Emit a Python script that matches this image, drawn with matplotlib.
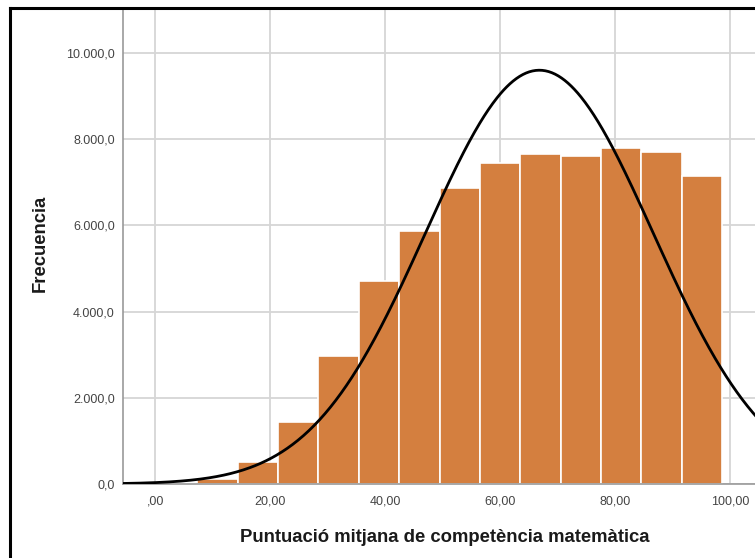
import numpy as np
import matplotlib
matplotlib.use("Agg")
import matplotlib.pyplot as plt
from matplotlib.lines import Line2D

# ---- data ----
bin_start = 0.3
bin_width = 7.02
counts = [30, 110, 500, 1430, 2980, 4700, 5880, 6870, 7450, 7660, 7600, 7800, 7710, 7150]
curve_mean = 66.8
curve_sd = 19.8
x_ticks = [0, 20, 40, 60, 80, 100]
x_tick_labels = [",00", "20,00", "40,00", "60,00", "80,00", "100,00"]
y_ticks = [0, 2000, 4000, 6000, 8000, 10000]
y_tick_labels = ["0,0", "2.000,0", "4.000,0", "6.000,0", "8.000,0", "10.000,0"]
x_label = "Puntuació mitjana de competència matemàtica"
y_label = "Frecuencia"

plt.rcParams['font.family'] = ['Liberation Sans', 'DejaVu Sans']

W, H = 755, 558
fig = plt.figure(figsize=(W / 100, H / 100), dpi=100)
fig.patch.set_facecolor("white")

ax_left, ax_right, ax_top, ax_bottom = 123, 755, 9, 484
ax = fig.add_axes([ax_left / W, 1 - ax_bottom / H, (ax_right - ax_left) / W, (ax_bottom - ax_top) / H])

edges = bin_start + bin_width * np.arange(len(counts) + 1)
ax.bar(edges[:-1], counts, width=bin_width, align="edge",
       color="#D47F3F", edgecolor="white", linewidth=1.2, zorder=2)

total = sum(counts)
xs = np.linspace(-6, 106, 600)
ys = total * bin_width / (curve_sd * np.sqrt(2 * np.pi)) * np.exp(-0.5 * ((xs - curve_mean) / curve_sd) ** 2)
ax.plot(xs, ys, color="black", linewidth=2.0, zorder=3, clip_on=True)

ax.set_xlim(-5.6, 104.3)
ax.set_ylim(0, 11020)
ax.set_xticks(x_ticks)
ax.set_xticklabels(x_tick_labels)
ax.set_yticks(y_ticks)
ax.set_yticklabels(y_tick_labels)
ax.tick_params(axis="both", length=0, labelsize=9, labelcolor="#444444")
ax.tick_params(axis="x", pad=8)
ax.tick_params(axis="y", pad=6)
ax.grid(True, color="#d6d6d6", linewidth=1.3, zorder=0)
ax.set_axisbelow(True)
for s in ["top", "right"]:
    ax.spines[s].set_visible(False)
for s in ["left", "bottom"]:
    ax.spines[s].set_color("#999999")
    ax.spines[s].set_linewidth(1.2)

fig.text(445 / W, 1 - 537 / H, x_label, ha="center", va="center",
         fontsize=13.3, fontweight="bold", color="#1a1a1a")
fig.text(40 / W, 1 - 243 / H, y_label, ha="center", va="center", rotation=90,
         fontsize=13.3, fontweight="bold", color="#1a1a1a")

# outer frame (left and top)
fig.add_artist(Line2D([9.5 / W, 9.5 / W], [0, 1 - 8 / H], color="black", linewidth=2.2, transform=fig.transFigure))
fig.add_artist(Line2D([9.5 / W, 1], [1 - 8 / H, 1 - 8 / H], color="black", linewidth=2.2, transform=fig.transFigure))

fig.savefig("out.png", dpi=100)
